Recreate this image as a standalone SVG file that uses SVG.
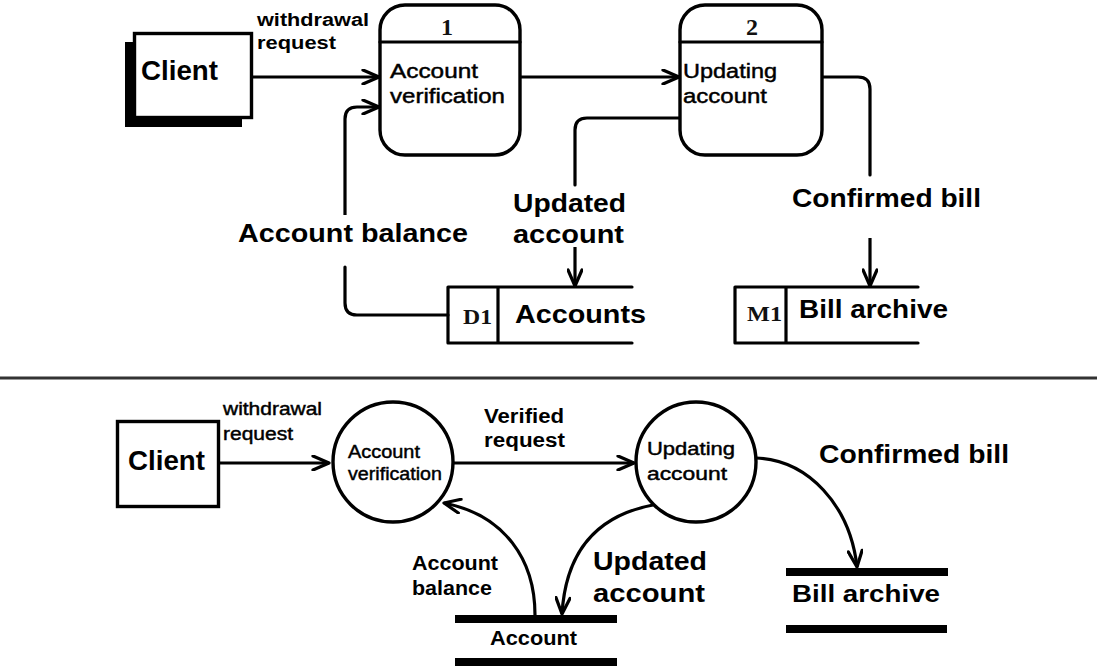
<svg xmlns="http://www.w3.org/2000/svg" width="1097" height="666" viewBox="0 0 1097 666">
  <style>
    .sans { font-family: "Liberation Sans", Arial, sans-serif; fill: #000; }
    .b { font-weight: bold; }
    .reg { stroke: #000; stroke-width: 0.45; }
    .serif { font-family: "Liberation Serif", "Times New Roman", serif; font-weight: bold; fill: #111; }
    .line { fill: none; stroke: #000; stroke-width: 3.2; stroke-linecap: round; stroke-linejoin: round; }
    .arrow { fill: none; stroke: #000; stroke-width: 3.2; marker-end: url(#open); }
    .box { fill: #fff; stroke: #000; stroke-width: 3.4; }
    .bar { fill: #000; }
  </style>
  <defs>
    <marker id="open" viewBox="0 0 20 16" refX="18" refY="8" markerWidth="20" markerHeight="16" markerUnits="userSpaceOnUse" orient="auto">
      <path d="M2,1 L18,8 L2,15" fill="none" stroke="#000" stroke-width="3.2" stroke-linecap="round" stroke-linejoin="round"/>
    </marker>
  </defs>
  <rect width="1097" height="666" fill="#fff"/>

  <!-- Upper data-flow diagram -->
  <g id="connectors-top">
    <path class="arrow" d="M252,77 L379,77"/>
    <path class="arrow" d="M520,77 L679,77"/>
    <path class="line" d="M822,77 L858,77 Q870,77 870,89 L870,175"/>
    <path class="arrow" d="M870,238 L870,286"/>
    <path class="line" d="M680,118 L587,118 Q575,118 575,130 L575,185"/>
    <path class="arrow" d="M575,247 L575,286"/>
    <path class="line" d="M448,315 L357,315 Q345,315 345,303 L345,267"/>
    <path class="arrow" d="M345,215 L345,119 Q345,107 357,107 L379,107"/>
    <g class="sans b">
      <text x="257" y="26" font-size="18" textLength="112" lengthAdjust="spacingAndGlyphs">withdrawal</text>
      <text x="257" y="49" font-size="18" textLength="79" lengthAdjust="spacingAndGlyphs">request</text>
      <text x="513" y="212" font-size="25" textLength="113" lengthAdjust="spacingAndGlyphs">Updated</text>
      <text x="513" y="243" font-size="25" textLength="111" lengthAdjust="spacingAndGlyphs">account</text>
      <text x="238" y="242" font-size="25" textLength="230" lengthAdjust="spacingAndGlyphs">Account balance</text>
      <text x="792" y="207" font-size="25" textLength="189" lengthAdjust="spacingAndGlyphs">Confirmed bill</text>
    </g>
  </g>

  <g id="client-top">
    <rect x="125" y="42" width="117" height="85" fill="#000"/>
    <rect class="box" x="134.5" y="33.5" width="117" height="84"/>
    <text class="sans b" x="141" y="80" font-size="27" textLength="77" lengthAdjust="spacingAndGlyphs">Client</text>
  </g>

  <g id="process-1">
    <rect class="box" x="380" y="5" width="140" height="150" rx="25"/>
    <line class="line" x1="380" y1="42" x2="520" y2="42"/>
    <text class="serif" x="447" y="35" font-size="24" text-anchor="middle">1</text>
    <text class="sans reg" x="390" y="78" font-size="20" textLength="88" lengthAdjust="spacingAndGlyphs">Account</text>
    <text class="sans reg" x="390" y="103" font-size="20" textLength="115" lengthAdjust="spacingAndGlyphs">verification</text>
  </g>

  <g id="process-2">
    <rect class="box" x="680" y="5" width="142" height="150" rx="25"/>
    <line class="line" x1="680" y1="42" x2="822" y2="42"/>
    <text class="serif" x="752" y="35" font-size="24" text-anchor="middle">2</text>
    <text class="sans reg" x="683" y="78" font-size="20" textLength="94" lengthAdjust="spacingAndGlyphs">Updating</text>
    <text class="sans reg" x="683" y="103" font-size="20" textLength="84" lengthAdjust="spacingAndGlyphs">account</text>
  </g>

  <g id="store-d1">
    <path class="line" d="M632,287 L448,287 L448,343 L632,343 M498,287 L498,343" stroke-linecap="butt"/>
    <text class="serif" x="463" y="324" font-size="22" textLength="29" lengthAdjust="spacingAndGlyphs">D1</text>
    <text class="sans b" x="515" y="323" font-size="25" textLength="131" lengthAdjust="spacingAndGlyphs">Accounts</text>
  </g>

  <g id="store-m1">
    <path class="line" d="M918,287 L735,287 L735,343 L918,343 M786,287 L786,343" stroke-linecap="butt"/>
    <text class="serif" x="747" y="321" font-size="22" textLength="35" lengthAdjust="spacingAndGlyphs">M1</text>
    <text class="sans b" x="799" y="318" font-size="25" textLength="149" lengthAdjust="spacingAndGlyphs">Bill archive</text>
  </g>

  <!-- Divider between the two notations -->
  <line x1="0" y1="378" x2="1097" y2="378" stroke="#333" stroke-width="3"/>

  <!-- Lower data-flow diagram -->
  <g id="connectors-bottom">
    <path class="arrow" d="M219,463 L329,463"/>
    <path class="arrow" d="M453,463 L634,463"/>
    <path class="arrow" d="M756,458 C808,460 850,505 857,567"/>
    <path class="arrow" d="M653,505 C600,515 566,548 562,614"/>
    <path class="arrow" d="M535,615 C535,560 505,515 444,503"/>
    <g class="sans reg">
      <text x="223" y="415" font-size="18" textLength="99" lengthAdjust="spacingAndGlyphs">withdrawal</text>
      <text x="223" y="440" font-size="18" textLength="70" lengthAdjust="spacingAndGlyphs">request</text>
    </g>
    <g class="sans b">
      <text x="484" y="423" font-size="20" textLength="80" lengthAdjust="spacingAndGlyphs">Verified</text>
      <text x="484" y="447" font-size="20" textLength="81" lengthAdjust="spacingAndGlyphs">request</text>
      <text x="819" y="463" font-size="25" textLength="190" lengthAdjust="spacingAndGlyphs">Confirmed bill</text>
      <text x="412" y="570" font-size="20" textLength="86" lengthAdjust="spacingAndGlyphs">Account</text>
      <text x="412" y="595" font-size="20" textLength="80" lengthAdjust="spacingAndGlyphs">balance</text>
      <text x="593" y="570" font-size="25" textLength="114" lengthAdjust="spacingAndGlyphs">Updated</text>
      <text x="593" y="602" font-size="25" textLength="112" lengthAdjust="spacingAndGlyphs">account</text>
    </g>
  </g>

  <g id="client-bottom">
    <rect class="box" x="117.5" y="421.5" width="101" height="85"/>
    <text class="sans b" x="128" y="470" font-size="27" textLength="77" lengthAdjust="spacingAndGlyphs">Client</text>
  </g>

  <g id="circle-verification">
    <circle class="box" cx="393" cy="462" r="60"/>
    <text class="sans reg" x="348" y="458" font-size="18" textLength="72" lengthAdjust="spacingAndGlyphs">Account</text>
    <text class="sans reg" x="348" y="480" font-size="18" textLength="94" lengthAdjust="spacingAndGlyphs">verification</text>
  </g>

  <g id="circle-updating">
    <circle class="box" cx="696" cy="462" r="60"/>
    <text class="sans reg" x="647" y="455" font-size="18" textLength="88" lengthAdjust="spacingAndGlyphs">Updating</text>
    <text class="sans reg" x="647" y="480" font-size="18" textLength="80" lengthAdjust="spacingAndGlyphs">account</text>
  </g>

  <g id="store-account">
    <rect class="bar" x="455" y="615" width="162" height="8"/>
    <rect class="bar" x="455" y="658" width="162" height="8"/>
    <text class="sans b" x="490" y="645" font-size="20" textLength="87" lengthAdjust="spacingAndGlyphs">Account</text>
  </g>

  <g id="store-bill-archive">
    <rect class="bar" x="786" y="568" width="162" height="8"/>
    <rect class="bar" x="786" y="625" width="161" height="8"/>
    <text class="sans b" x="792" y="602" font-size="24" textLength="148" lengthAdjust="spacingAndGlyphs">Bill archive</text>
  </g>
</svg>
